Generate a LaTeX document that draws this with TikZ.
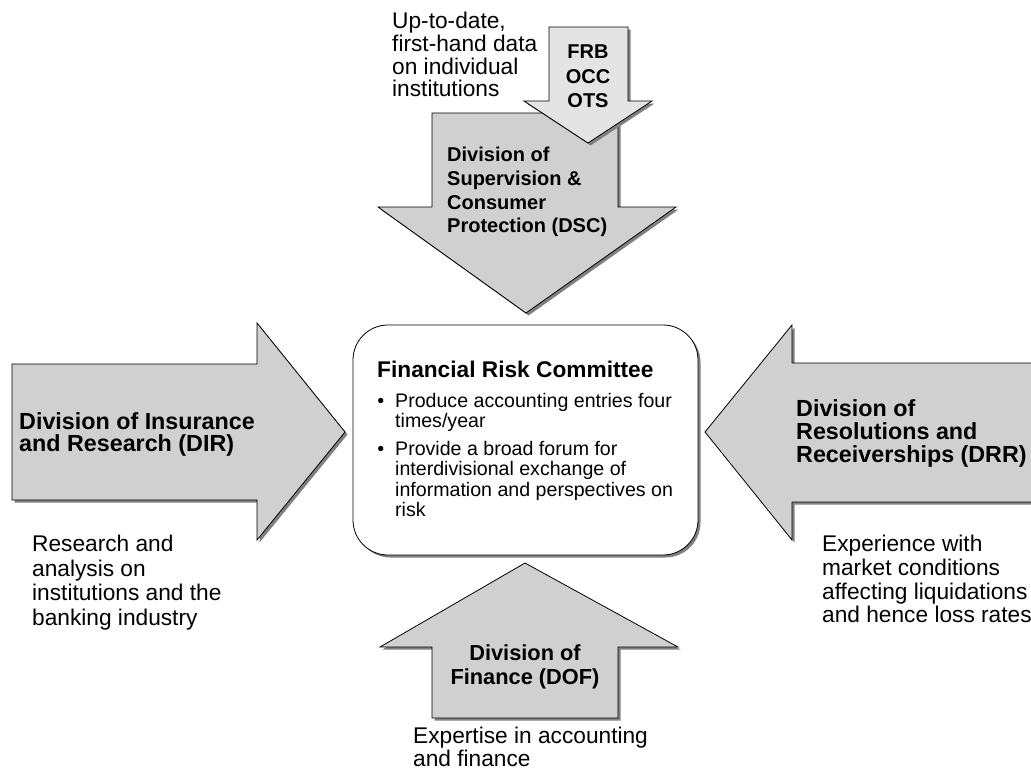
\documentclass[tikz,border=0pt]{standalone}
\usepackage{fontspec}
\setmainfont{Liberation Sans}
\usetikzlibrary{shadows}
\definecolor{arrowfill}{RGB}{208,208,208}
\definecolor{smallfill}{RGB}{228,228,228}
\definecolor{shadowgray}{RGB}{128,128,128}

\begin{document}
\begin{tikzpicture}[x=1pt, y=-1pt,
  blockarrow/.style={draw=black, line width=0.8pt, fill=arrowfill,
    drop shadow={shadow xshift=2.5pt, shadow yshift=-2.5pt, fill=shadowgray, opacity=1}},
  plaintxt/.style={inner sep=0pt, anchor=north west, align=left,
    font=\fontsize{22.7}{22.7}\selectfont},
  boldtxt/.style={plaintxt, font=\fontsize{#1}{#1}\selectfont\bfseries},
  itemtxt/.style={plaintxt, font=\fontsize{19.6}{20.5}\selectfont}]
\useasboundingbox (0,0) rectangle (1031,772);

% side arrows
\draw[blockarrow] (12,364) -- (257,364) -- (257,323) -- (345,432) -- (257,540)
  -- (257,500) -- (12,500) -- cycle;
\draw[blockarrow] (1040,363) -- (792,363) -- (792,325) -- (705,432) -- (792,540)
  -- (792,502) -- (1040,502) -- cycle;
% arrow from below
\draw[blockarrow] (432,718) -- (432,647) -- (380,647) -- (525,563) -- (678,647)
  -- (618,647) -- (618,718) -- cycle;

% the committee
\draw[draw=black, line width=0.8pt, fill=white, rounded corners=35pt,
  drop shadow={shadow xshift=2.5pt, shadow yshift=-2.5pt, fill=shadowgray, opacity=1}]
  (353,325) rectangle (698,555);

% arrows from above
\draw[blockarrow] (432,113) -- (618,113) -- (618,207) -- (676,207) -- (526,313)
  -- (378,207) -- (432,207) -- cycle;
\draw[blockarrow, fill=smallfill] (549,27) -- (628,27) -- (628,101) -- (652,101)
  -- (588,143) -- (524,101) -- (549,101) -- cycle;

% labels
\node[plaintxt] (updata) at (392,12) {Up-to-date,\\first-hand data\\on individual\\institutions};
\node[boldtxt=20, anchor=north, align=center, font=\fontsize{20}{24.5}\selectfont\bfseries]
  (frb) at (588,45) {FRB\\OCC\\OTS};
\node[boldtxt=20, font=\fontsize{20}{23.7}\selectfont\bfseries] (dsc) at (447,147)
  {Division of\\Supervision \&\\Consumer\\Protection (DSC)};
\node[boldtxt=23.3, font=\fontsize{23.3}{22}\selectfont\bfseries] (dir) at (19,412)
  {Division of Insurance\\and Research (DIR)};
\node[boldtxt=23.3, font=\fontsize{23.3}{23}\selectfont\bfseries] (drr) at (796,399)
  {Division of\\Resolutions and\\Receiverships (DRR)};
\node[boldtxt=21.8, anchor=north, align=center, font=\fontsize{21.8}{24}\selectfont\bfseries]
  (dof) at (525,644) {Division of\\Finance (DOF)};

\node[boldtxt=22.7] (frc) at (377,361) {Financial Risk Committee};
\node[itemtxt] (itema) at (395,393)
  {\llap{\textbullet\hspace{11pt}}Produce accounting entries four\\times/year};
\node[itemtxt] (itemb) at (395,441)
  {\llap{\textbullet\hspace{11pt}}Provide a broad forum for\\interdivisional exchange of\\information and perspectives on\\risk};

\node[plaintxt, font=\fontsize{22.7}{24.5}\selectfont] (research) at (32,535)
  {Research and\\analysis on\\institutions and the\\banking industry};
\node[plaintxt, font=\fontsize{22.7}{23.7}\selectfont] (experience) at (822,535)
  {Experience with\\market conditions\\affecting liquidations\\and hence loss rates};
\node[plaintxt, font=\fontsize{22.7}{22.5}\selectfont] (expertise) at (413,727)
  {Expertise in accounting\\and finance};
\end{tikzpicture}
\end{document}
